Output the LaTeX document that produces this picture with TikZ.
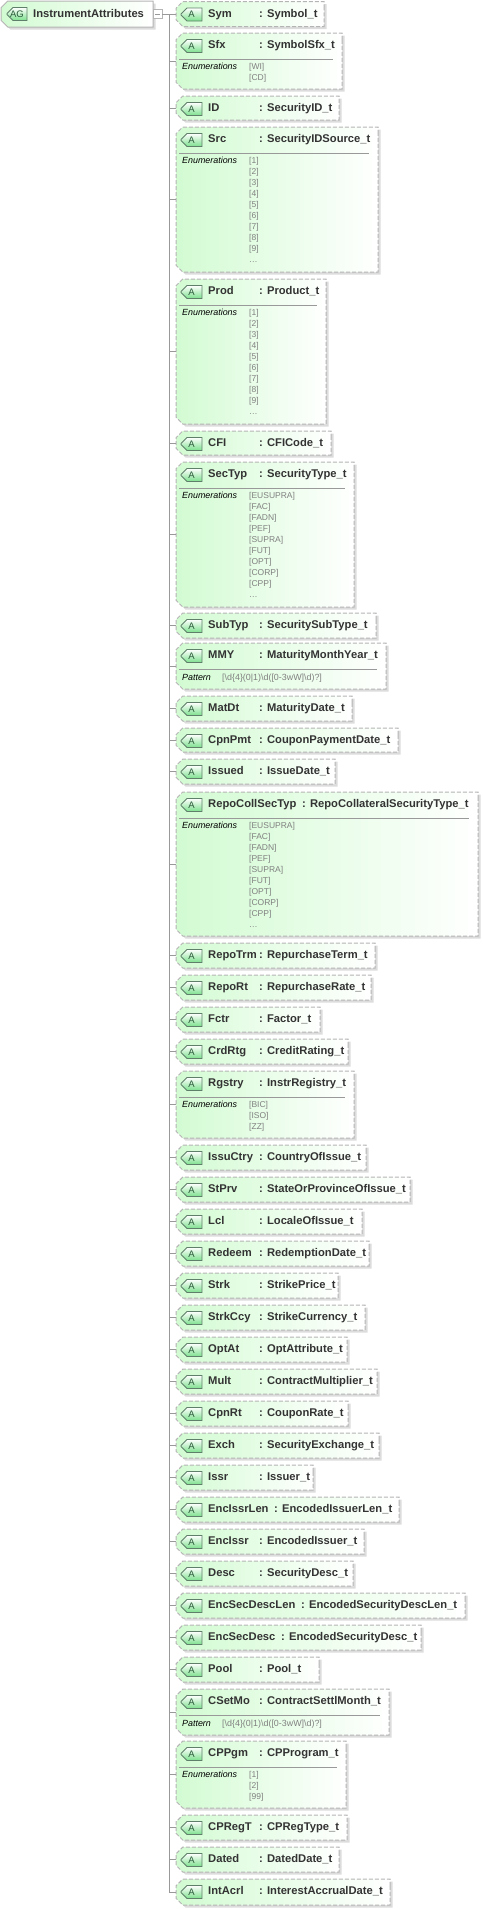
\documentclass[tikz,border=0pt]{standalone}
\usepackage{fontspec}
\setmainfont{Liberation Sans}
\usetikzlibrary{shapes.misc}
\usetikzlibrary{shadows}

\definecolor{attrgreen}{HTML}{D2FBD2}
\definecolor{attrmid}{HTML}{F0FEF0}
\definecolor{badgegreen}{HTML}{7CE08C}
\definecolor{badgeline}{HTML}{5F7F6A}
\definecolor{badgetext}{HTML}{2A5A3A}
\definecolor{boxline}{HTML}{B4B4B4}
\definecolor{valgray}{HTML}{808080}
\definecolor{shadowgray}{HTML}{DCDCDC}
\definecolor{nametext}{HTML}{333333}

\begin{document}
\begin{tikzpicture}[x=1pt,y=-1pt]
    \useasboundingbox (0,0) rectangle (482,1909);
    \tikzset{
        attrbox/.style={chamfered rectangle, chamfered rectangle corners={north west,south west},
            chamfered rectangle xsep=6pt, chamfered rectangle ysep=6pt,
            inner sep=0pt, outer sep=0pt, draw=boxline, line width=1pt, dash pattern=on 4pt off 2pt,
            left color=attrgreen, middle color=attrmid, right color=white,
            general shadow={shadow xshift=2.5pt, shadow yshift=-2.5pt, fill=shadowgray}},
        rootbox/.style={attrbox, solid, draw=boxline, minimum width=152pt, minimum height=26pt},
        badge/.style={chamfered rectangle, chamfered rectangle corners={north west,south west},
            chamfered rectangle xsep=3pt, chamfered rectangle ysep=3pt, anchor=west,
            inner sep=0pt, outer sep=0pt, draw=badgeline, line width=0.8pt,
            top color=white, bottom color=badgegreen, text=badgetext,
            minimum width=21pt, minimum height=13pt, font=\fontsize{9.5}{11}\selectfont},
        attrname/.style={anchor=base west, inner sep=0pt, text=nametext, font=\fontsize{11.2}{13}\selectfont\bfseries},
        enumhead/.style={anchor=base west, inner sep=0pt, font=\fontsize{8.9}{11}\selectfont\itshape},
        enumval/.style={anchor=base west, inner sep=0pt, text=valgray, font=\fontsize{8.5}{11}\selectfont},
        seprule/.style={draw=black!40, line width=0.8pt},
        connline/.style={draw=black!40, line width=0.8pt}
    }

    % draw root group
    \node[rootbox] (root) at (77,14) {\phantom{A}};
    \node[badge, minimum width=20pt] (root-badge) at (7,14) {AG};
    \node[attrname] (root-name) at (33,17) {InstrumentAttributes};
    \node[draw=boxline, fill=white, line width=0.8pt, inner sep=0pt, minimum width=9pt, minimum height=9pt] (toggle) at (157.5,14) {};
    \draw[connline] ([xshift=-2.5pt]toggle.center) -- ([xshift=2.5pt]toggle.center);
    \coordinate (trunk) at (169,14);

    % draw attributes : name / type / top / right / height / colon
    \foreach \attr/\dtype/\ytop/\xright/\hgt/\xcolon in {
        Sym/Symbol\_t/1.5/324/25/259,
        Sfx/SymbolSfx\_t/33/342/56/259,
        ID/SecurityID\_t/96/339/24/259,
        Src/SecurityIDSource\_t/127/378/145/259,
        Prod/Product\_t/279/326/145/259,
        CFI/CFICode\_t/431/331/24/259,
        SecTyp/SecurityType\_t/462/354/145/259,
        SubTyp/SecuritySubType\_t/613/376/25/259,
        MMY/MaturityMonthYear\_t/643/386/46/259,
        MatDt/MaturityDate\_t/696/352/25/259,
        CpnPmt/CouponPaymentDate\_t/728/398/24/259,
        Issued/IssueDate\_t/759/335/25/259,
        RepoCollSecTyp/RepoCollateralSecurityType\_t/792/478/144/302,
        RepoTrm/RepurchaseTerm\_t/943/375/25/259,
        RepoRt/RepurchaseRate\_t/975/371/25/259,
        Fctr/Factor\_t/1007/320/25/259,
        CrdRtg/CreditRating\_t/1039/348/25/259,
        Rgstry/InstrRegistry\_t/1071/354/67/259,
        IssuCtry/CountryOfIssue\_t/1145/366/25/259,
        StPrv/StateOrProvinceOfIssue\_t/1177/410/25/259,
        Lcl/LocaleOfIssue\_t/1209/362/25/259,
        Redeem/RedemptionDate\_t/1241/369/25/259,
        Strk/StrikePrice\_t/1273/338/25/259,
        StrkCcy/StrikeCurrency\_t/1305/365/25/259,
        OptAt/OptAttribute\_t/1337/347/25/259,
        Mult/ContractMultiplier\_t/1369/377/25/259,
        CpnRt/CouponRate\_t/1401/348/25/259,
        Exch/SecurityExchange\_t/1433/379/25/259,
        Issr/Issuer\_t/1465/313/25/259,
        EncIssrLen/EncodedIssuerLen\_t/1497/399/25/274,
        EncIssr/EncodedIssuer\_t/1529/364/25/259,
        Desc/SecurityDesc\_t/1561/353/25/259,
        EncSecDescLen/EncodedSecurityDescLen\_t/1593/465/25/301,
        EncSecDesc/EncodedSecurityDesc\_t/1625/421/25/281,
        Pool/Pool\_t/1657/319/25/259,
        CSetMo/ContractSettlMonth\_t/1689/389/46/259,
        CPPgm/CPProgram\_t/1741/346/67/259,
        CPRegT/CPRegType\_t/1815/347/25/259,
        Dated/DatedDate\_t/1847/339/25/259,
        IntAcrl/InterestAccrualDate\_t/1879/390/26/259} {
        \node[attrbox, minimum width={(\xright-176)*1pt}, minimum height={\hgt*1pt}] (\attr) at ({(176+\xright)/2},{\ytop+\hgt/2}) {\phantom{A}};
        \node[badge] (\attr-badge) at (181,\ytop+13) {A};
        \node[attrname] (\attr-name) at (208,\ytop+15.5) {\attr};
        \node[attrname] (\attr-type) at (\xcolon,\ytop+15.5) {: \dtype};
        \draw[connline] (trunk |- \attr.west) -- (\attr.west);
        \ifnum\hgt>26
            \draw[seprule] (179,\ytop+26) -- (\xright-9,\ytop+26);
        \fi
    }

    % draw trunk
    \draw[connline] (toggle.east) -- (toggle.east -| Sym.west);
    \draw[connline] (trunk) -- (trunk |- IntAcrl.west);

    % draw enumerations
    \foreach \attr/\ytop/\vals in {
        Sfx/33/{[WI],[CD]},
        Src/127/{[1],[2],[3],[4],[5],[6],[7],[8],[9],\ldots},
        Prod/279/{[1],[2],[3],[4],[5],[6],[7],[8],[9],\ldots},
        SecTyp/462/{[EUSUPRA],[FAC],[FADN],[PEF],[SUPRA],[FUT],[OPT],[CORP],[CPP],\ldots},
        RepoCollSecTyp/792/{[EUSUPRA],[FAC],[FADN],[PEF],[SUPRA],[FUT],[OPT],[CORP],[CPP],\ldots},
        Rgstry/1071/{[BIC],[ISO],[ZZ]},
        CPPgm/1741/{[1],[2],[99]}} {
        \node[enumhead] (\attr-head) at (182,\ytop+36.5) {Enumerations};
        \foreach \val [count=\i] in \vals {
            \node[enumval] (\attr-val\i) at (249,\ytop+25.5+11*\i) {\val};
        }
    }

    % draw patterns
    \foreach \attr/\ytop in {MMY/643,CSetMo/1689} {
        \node[enumhead] (\attr-head) at (182,\ytop+37) {Pattern};
        \node[enumval, font=\fontsize{8.9}{11}\selectfont] (\attr-val) at (222,\ytop+37) {[\textbackslash d\{4\}(0|1)\textbackslash d([0-3wW]\textbackslash d)?]};
    }
\end{tikzpicture}
\end{document}
